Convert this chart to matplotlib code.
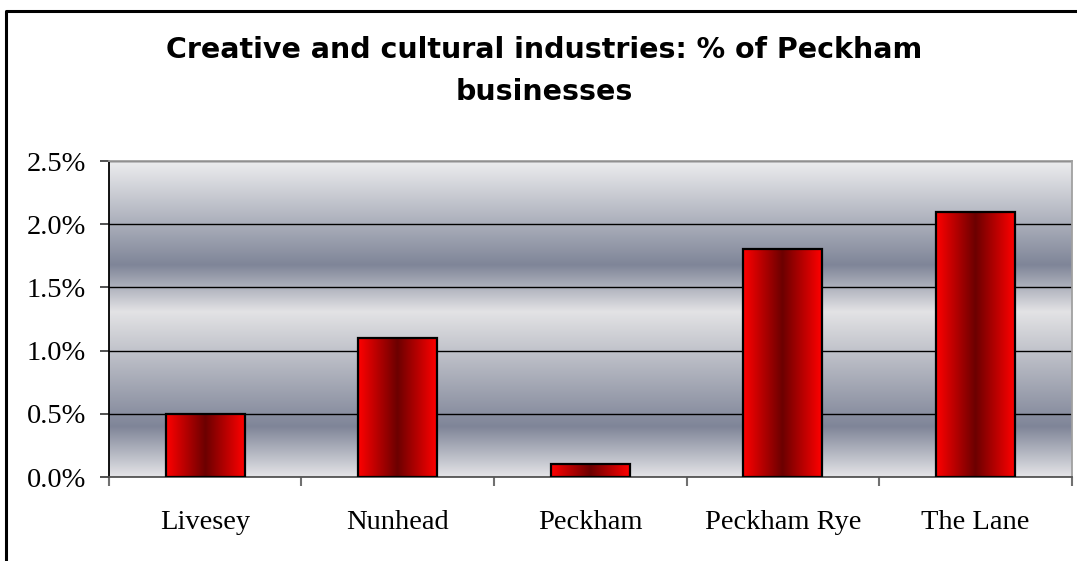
import numpy as np
import matplotlib.pyplot as plt
from matplotlib.colors import LinearSegmentedColormap
from matplotlib.lines import Line2D

# share of Peckham businesses in creative and cultural industries, in percent
areas = ["Livesey", "Nunhead", "Peckham", "Peckham Rye", "The Lane"]
share_pct = [0.5, 1.1, 0.1, 1.8, 2.1]
y_ticks = [0.0, 0.5, 1.0, 1.5, 2.0, 2.5]
title = "Creative and cultural industries: % of Peckham\nbusinesses"

fig = plt.figure(figsize=(10.77, 5.61), dpi=100)
fig.patch.set_facecolor("white")
ax = fig.add_axes([0.1012, 0.1497, 0.8937, 0.5633])

n = len(areas)
ymax = y_ticks[-1]

# banded grey background of the plot area
bg_cmap = LinearSegmentedColormap.from_list(
    "silver",
    [(0.0, "#e4e4e7"), (0.158, "#7f8598"), (0.522, "#e3e3e5"),
     (0.67, "#7f8598"), (1.0, "#ededef")],
)
vgrad = np.linspace(0, 1, 512).reshape(-1, 1)
ax.imshow(vgrad, cmap=bg_cmap, origin="lower", extent=[0, n, 0, ymax],
          aspect="auto", zorder=0, interpolation="bicubic")

# bars: outline from ax.bar, red-dark-red fill painted inside each one
centers = np.arange(n) + 0.5
bars = ax.bar(centers, share_pct, width=0.41, facecolor="none",
              edgecolor="black", linewidth=1.6, zorder=3)
red_cmap = LinearSegmentedColormap.from_list(
    "redbar", [(0.0, "#ff0000"), (0.5, "#6c0000"), (1.0, "#ff0000")])
hgrad = np.linspace(0, 1, 256).reshape(1, -1)
for rect in bars:
    x0, w, h = rect.get_x(), rect.get_width(), rect.get_height()
    ax.imshow(hgrad, cmap=red_cmap, extent=[x0, x0 + w, 0, h],
              aspect="auto", zorder=2, interpolation="bicubic")

ax.set_xlim(0, n)
ax.set_ylim(0, ymax)

# y axis
ax.set_yticks(y_ticks)
ax.set_yticklabels([f"{v:.1f}%" for v in y_ticks])
ax.yaxis.grid(True, color="black", linewidth=1.0, zorder=1)
ax.set_axisbelow(True)
ax.tick_params(axis="y", direction="out", length=6.5, width=1.2,
               color="#333333", pad=10)

# x axis: ticks between categories, labels centred on the bars
ax.set_xticks(range(n + 1))
ax.set_xticklabels([])
ax.set_xticks(centers, minor=True)
ax.set_xticklabels(areas, minor=True)
ax.tick_params(axis="x", which="major", direction="out", length=6.5,
               width=1.5, color="#707070")
ax.tick_params(axis="x", which="minor", length=0, pad=24)

for lab in ax.get_xticklabels(minor=True) + ax.get_yticklabels():
    lab.set_fontfamily("Liberation Serif")
    lab.set_fontsize(20.5)
    lab.set_color("black")

ax.spines["left"].set_color("black")
ax.spines["bottom"].set_color("#555555")
ax.spines["top"].set_color("#a0a0a0")
ax.spines["right"].set_color("#a0a0a0")
for sp in ax.spines.values():
    sp.set_linewidth(1.3)

fig.text(0.505, 1 - 36 / 561, title, ha="center", va="top",
         fontsize=20.5, fontweight="bold", family="DejaVu Sans",
         linespacing=1.63)

# chart frame (left and top edges)
fx, fy = 6 / 1077, 1 - 11 / 561
fig.add_artist(Line2D([fx, fx, 1.0], [0.0, fy, fy], transform=fig.transFigure,
                      color="black", linewidth=2.2))

fig.savefig("out.png", dpi=100)
